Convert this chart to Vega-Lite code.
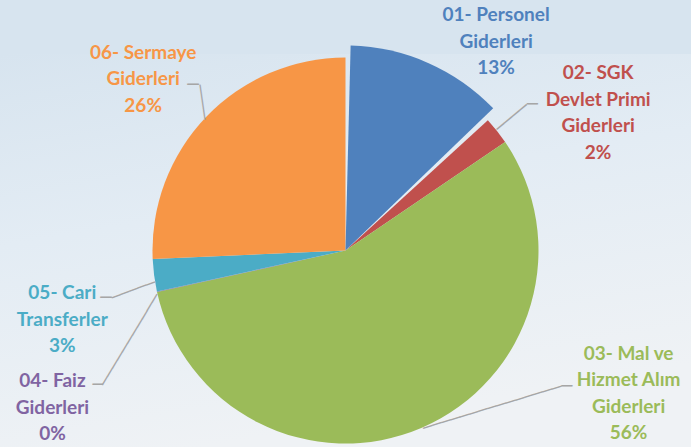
{
  "$schema": "https://vega.github.io/schema/vega-lite/v6.json",
  "width": 691,
  "height": 393,
  "autosize": {"type": "none"},
  "padding": {"top": 54, "left": 0, "right": 0, "bottom": 0},
  "background": "#d7e4ef",
  "config": {"view": {"stroke": null}},
  "datasets": {
    "gider": [
      {"kalem": "01- Personel Giderleri", "pay": 13.2, "etiket": "01- Personel\nGiderleri\n13%"},
      {"kalem": "02- SGK Devlet Primi Giderleri", "pay": 2.3, "etiket": "02- SGK\nDevlet Primi\nGiderleri\n2%"},
      {"kalem": "03- Mal ve Hizmet Alım Giderleri", "pay": 56.05, "etiket": "03- Mal ve\nHizmet Alım\nGiderleri\n56%"},
      {"kalem": "04- Faiz Giderleri", "pay": 0.05, "etiket": "04- Faiz\nGiderleri\n0%"},
      {"kalem": "05- Cari Transferler", "pay": 2.7, "etiket": "05- Cari\nTransferler\n3%"},
      {"kalem": "06- Sermaye Giderleri", "pay": 25.7, "etiket": "06- Sermaye\nGiderleri\n26%"}
    ]
  },
  "data": {"name": "gider"},
  "encoding": {
    "theta": {"field": "pay", "type": "quantitative", "stack": true},
    "order": {"field": "kalem", "type": "nominal", "sort": "ascending"},
    "color": {
      "field": "kalem",
      "type": "nominal",
      "legend": null,
      "scale": {
        "domain": ["01- Personel Giderleri", "02- SGK Devlet Primi Giderleri", "03- Mal ve Hizmet Alım Giderleri", "04- Faiz Giderleri", "05- Cari Transferler", "06- Sermaye Giderleri"],
        "range": ["#4f81bd", "#c0504d", "#9bbb59", "#8064a2", "#4bacc6", "#f79646"]
      }
    }
  },
  "layer": [
    {
      "data": {"values": [{}]},
      "mark": {
        "type": "rect",
        "color": {
          "gradient": "linear", "x1": 0, "y1": 0, "x2": 0.3, "y2": 1,
          "stops": [
            {"offset": 0, "color": "#d7e4ef"},
            {"offset": 0.45, "color": "#e3ecf4"},
            {"offset": 1, "color": "#eff2f5"}
          ]
        }
      },
      "encoding": {
        "theta": null, "order": null, "color": null,
        "x": {"value": 0}, "x2": {"value": "width"},
        "y": {"value": 0}, "y2": {"value": "height"}
      }
    },
    {
      "mark": {"type": "arc", "radius": 193},
      "encoding": {
        "opacity": {"condition": {"test": "datum.kalem === '01- Personel Giderleri'", "value": 0}, "value": 1}
      }
    },
    {
      "mark": {"type": "arc", "radius": 205, "padAngle": 0.05},
      "encoding": {
        "opacity": {"condition": {"test": "datum.kalem === '01- Personel Giderleri'", "value": 1}, "value": 0}
      }
    },
    {
      "mark": {"type": "text", "radius": 215, "dx": -1.8, "dy": -1.1, "angle": -39.8, "font": "DejaVu Sans", "fontSize": 16.2, "align": "center", "baseline": "middle", "color": "#a6a6a6"},
      "encoding": {"text": {"value": "────"}, "color": null,
        "opacity": {"condition": {"test": "datum.kalem === '02- SGK Devlet Primi Giderleri'", "value": 1}, "value": 0}}
    },
    {
      "mark": {"type": "text", "radius": 215, "dx": 18.4, "dy": -12.2, "font": "DejaVu Sans", "fontSize": 18, "align": "center", "baseline": "middle", "color": "#a6a6a6"},
      "encoding": {"text": {"value": "─"}, "color": null,
        "opacity": {"condition": {"test": "datum.kalem === '02- SGK Devlet Primi Giderleri'", "value": 1}, "value": 0}}
    },
    {
      "mark": {"type": "text", "radius": 215, "dx": 70.9, "dy": -20.6, "angle": -16.9, "font": "DejaVu Sans", "fontSize": 16, "align": "center", "baseline": "middle", "color": "#a6a6a6"},
      "encoding": {"text": {"value": "───────────────"}, "color": null,
        "opacity": {"condition": {"test": "datum.kalem === '03- Mal ve Hizmet Alım Giderleri'", "value": 1}, "value": 0}}
    },
    {
      "mark": {"type": "text", "radius": 215, "dx": 136.4, "dy": -61.3, "font": "DejaVu Sans", "fontSize": 18, "align": "center", "baseline": "middle", "color": "#a6a6a6"},
      "encoding": {"text": {"value": "─"}, "color": null,
        "opacity": {"condition": {"test": "datum.kalem === '03- Mal ve Hizmet Alım Giderleri'", "value": 1}, "value": 0}}
    },
    {
      "mark": {"type": "text", "radius": 215, "dx": -39.9, "dy": 17.9, "angle": -58.9, "font": "DejaVu Sans", "fontSize": 16, "align": "center", "baseline": "middle", "color": "#a6a6a6"},
      "encoding": {"text": {"value": "───────────"}, "color": null,
        "opacity": {"condition": {"test": "datum.kalem === '04- Faiz Giderleri'", "value": 1}, "value": 0}}
    },
    {
      "mark": {"type": "text", "radius": 215, "dx": -37.8, "dy": 88.9, "font": "DejaVu Sans", "fontSize": 17, "align": "center", "baseline": "middle", "color": "#a6a6a6"},
      "encoding": {"text": {"value": "─"}, "color": null,
        "opacity": {"condition": {"test": "datum.kalem === '04- Faiz Giderleri'", "value": 1}, "value": 0}}
    },
    {
      "mark": {"type": "text", "radius": 215, "dx": -3.0, "dy": 11.6, "angle": -20.4, "font": "DejaVu Sans", "fontSize": 15.25, "align": "center", "baseline": "middle", "color": "#a6a6a6"},
      "encoding": {"text": {"value": "─────"}, "color": null,
        "opacity": {"condition": {"test": "datum.kalem === '05- Cari Transferler'", "value": 1}, "value": 0}}
    },
    {
      "mark": {"type": "text", "radius": 215, "dx": -26.3, "dy": 19.9, "font": "DejaVu Sans", "fontSize": 19, "align": "center", "baseline": "middle", "color": "#a6a6a6"},
      "encoding": {"text": {"value": "─"}, "color": null,
        "opacity": {"condition": {"test": "datum.kalem === '05- Cari Transferler'", "value": 1}, "value": 0}}
    },
    {
      "mark": {"type": "text", "radius": 215, "dx": 2.2, "dy": -11.2, "angle": 81.9, "font": "DejaVu Sans", "fontSize": 14.7, "align": "center", "baseline": "middle", "color": "#a6a6a6"},
      "encoding": {"text": {"value": "────"}, "color": null,
        "opacity": {"condition": {"test": "datum.kalem === '06- Sermaye Giderleri'", "value": 1}, "value": 0}}
    },
    {
      "mark": {"type": "text", "radius": 215, "dx": 2.9, "dy": -16.9, "font": "DejaVu Sans", "fontSize": 19, "align": "center", "baseline": "middle", "color": "#a6a6a6"},
      "encoding": {"text": {"value": "─"}, "color": null,
        "opacity": {"condition": {"test": "datum.kalem === '06- Sermaye Giderleri'", "value": 1}, "value": 0}}
    },
    {
      "mark": {"type": "text", "radius": 215, "dx": 64, "dy": -38.7, "font": "Lato", "fontWeight": "bold", "fontSize": 19, "lineBreak": "\n", "lineHeight": 26.5, "align": "center", "baseline": "middle"},
      "encoding": {"text": {"field": "etiket"},
        "opacity": {"condition": {"test": "datum.kalem === '01- Personel Giderleri'", "value": 1}, "value": 0}}
    },
    {
      "mark": {"type": "text", "radius": 215, "dx": 84, "dy": -44, "font": "Lato", "fontWeight": "bold", "fontSize": 19, "lineBreak": "\n", "lineHeight": 26.5, "align": "center", "baseline": "middle"},
      "encoding": {"text": {"field": "etiket"},
        "opacity": {"condition": {"test": "datum.kalem === '02- SGK Devlet Primi Giderleri'", "value": 1}, "value": 0}}
    },
    {
      "mark": {"type": "text", "radius": 215, "dx": 198, "dy": -94, "font": "Lato", "fontWeight": "bold", "fontSize": 19, "lineBreak": "\n", "lineHeight": 26.5, "align": "center", "baseline": "middle"},
      "encoding": {"text": {"field": "etiket"},
        "opacity": {"condition": {"test": "datum.kalem === '03- Mal ve Hizmet Alım Giderleri'", "value": 1}, "value": 0}}
    },
    {
      "mark": {"type": "text", "radius": 215, "dx": -83, "dy": 85, "font": "Lato", "fontWeight": "bold", "fontSize": 19, "lineBreak": "\n", "lineHeight": 26.5, "align": "center", "baseline": "middle"},
      "encoding": {"text": {"field": "etiket"},
        "opacity": {"condition": {"test": "datum.kalem === '04- Faiz Giderleri'", "value": 1}, "value": 0}}
    },
    {
      "mark": {"type": "text", "radius": 215, "dx": -70, "dy": 15, "font": "Lato", "fontWeight": "bold", "fontSize": 19, "lineBreak": "\n", "lineHeight": 26.5, "align": "center", "baseline": "middle"},
      "encoding": {"text": {"field": "etiket"},
        "opacity": {"condition": {"test": "datum.kalem === '05- Cari Transferler'", "value": 1}, "value": 0}}
    },
    {
      "mark": {"type": "text", "radius": 215, "dx": -47, "dy": -49, "font": "Lato", "fontWeight": "bold", "fontSize": 19, "lineBreak": "\n", "lineHeight": 26.5, "align": "center", "baseline": "middle"},
      "encoding": {"text": {"field": "etiket"},
        "opacity": {"condition": {"test": "datum.kalem === '06- Sermaye Giderleri'", "value": 1}, "value": 0}}
    }
  ]
}
